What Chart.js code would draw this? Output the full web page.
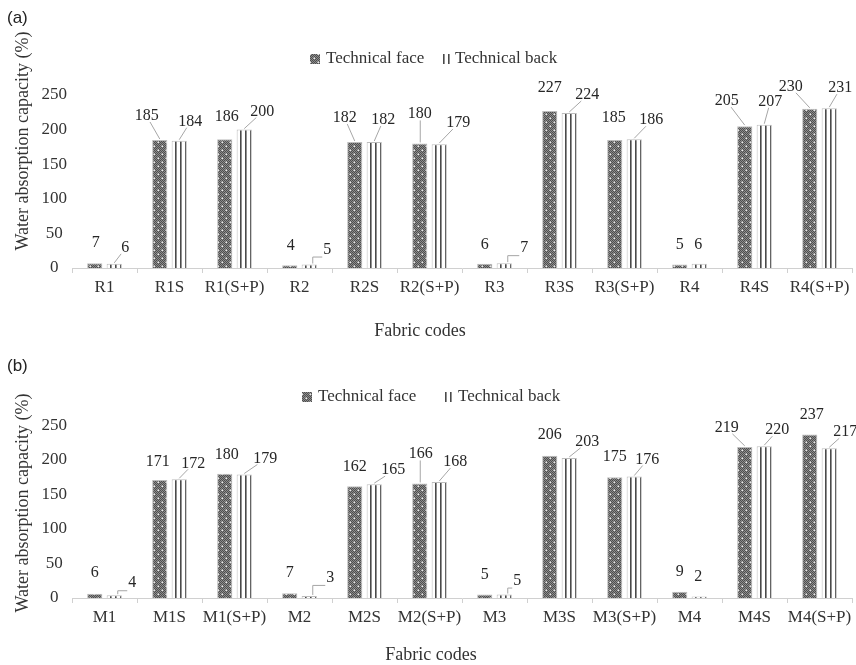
<!DOCTYPE html>
<html><head><meta charset="utf-8">
<script src="https://cdn.jsdelivr.net/npm/chart.js@4.4.1/dist/chart.umd.min.js"></script>
<style>
html,body{margin:0;padding:0;background:#fff;}
#wrap{position:relative;width:856px;height:665px;overflow:hidden;}
canvas{position:absolute;left:0;}
</style></head><body>
<div id="wrap">
<canvas id="ca" width="856" height="340" style="top:0;width:856px;height:340px"></canvas>
<canvas id="cb" width="856" height="325" style="top:340px;width:856px;height:325px"></canvas>
</div>
<script>
// ---- data ----
const categoriesA = ['R1','R1S','R1(S+P)','R2','R2S','R2(S+P)','R3','R3S','R3(S+P)','R4','R4S','R4(S+P)'];
const faceA = [7,185,186,4,182,180,6,227,185,5,205,230];
const backA = [6,184,200,5,182,179,7,224,186,6,207,231];
const categoriesB = ['M1','M1S','M1(S+P)','M2','M2S','M2(S+P)','M3','M3S','M3(S+P)','M4','M4S','M4(S+P)'];
const faceB = [6,171,180,7,162,166,5,206,175,9,219,237];
const backB = [4,172,179,3,165,168,5,203,176,2,220,217];
const yTicks = [0,50,100,150,200,250];
const seriesNames = ['Technical face','Technical back'];
const xTitle = 'Fabric codes';
const yTitle = 'Water absorption capacity (%)';

// ---- label placement (offset from bar top, leader type) ----
const labA_face = [[1,-20,''],[-13,-24,'l'],[2,-22,''],[1,-19,''],[-10,-24,'l'],[0,-30,'v'],[0,-19,''],[0,-23,''],[-1,-22,''],[0,-19.5,''],[-18,-25,'l'],[-19,-22,'l']];
const labA_back = [[11,-16,'l'],[11,-19,'l'],[18,-18,'l'],[18,-15,'e'],[9,-22,'l'],[19,-21,'l'],[20,-15,'e'],[18,-18,'l'],[17,-19,'l'],[-1,-19,''],[6,-23,'l'],[11,-20,'l']];
const labB_face = [[0,-21,''],[-2,-18,''],[2,-19,''],[0,-20,''],[0,-19,''],[1,-30,'v'],[0,-19.5,''],[0,-21,''],[0,-20,''],[0,-20,''],[-18,-19,'l'],[2,-20,'']];
const labB_back = [[18,-12,'e'],[14,-16,'l'],[21,-16,'l'],[21,-18,'e'],[19,-14,'l'],[16,-20,'l'],[13,-14,'e'],[18,-16,'l'],[13,-17,'l'],[-1,-20,''],[13,-16,'l'],[16,-16,'l']];

const SERIF = '"Liberation Serif","Times New Roman",serif';
const SANS = '"Liberation Sans",Arial,sans-serif';

function facePattern(){
  const c=document.createElement('canvas'); c.width=8; c.height=8;
  const g=c.getContext('2d');
  for(let y=0;y<8;y++)for(let x=0;x<8;x++){
    g.fillStyle=((x+y)%2===0)?'#4e4e4e':'#8c8c8c'; g.fillRect(x,y,1,1);
  }
  g.fillStyle='#e8e8e8'; g.fillRect(1.5,1.5,1.5,1.5); g.fillRect(5.5,5.5,1.5,1.5);
  return c;
}
function backPattern(){
  const c=document.createElement('canvas'); c.width=5; c.height=4;
  const g=c.getContext('2d');
  g.fillStyle='#ffffff'; g.fillRect(0,0,5,4);
  g.fillStyle='#4a4a4a'; g.fillRect(0,0,1.6,4);
  return c;
}

const annot = {
  id:'annot',
  afterDatasetsDraw(chart, args, o){
    const ctx=chart.ctx;
    ctx.save();
    ctx.font='16px '+SERIF;
    ctx.textAlign='center'; ctx.textBaseline='middle';
    o.labels.forEach((offs,di)=>{
      const meta=chart.getDatasetMeta(di);
      const vals=chart.data.datasets[di].data;
      meta.data.forEach((bar,j)=>{
        const [dx,dy,type]=offs[j];
        const bx=bar.x, by=bar.y;
        const lx=bx+dx, ly=by+dy;
        const txt=String(vals[j]);
        const w=ctx.measureText(txt).width;
        ctx.strokeStyle='#a6a6a6'; ctx.lineWidth=1;
        if(type){
          ctx.beginPath();
          if(type==='l'){
            const ddx=bx-lx, ddy=by-ly;
            const t=Math.min(ddx===0?1e9:(w/2+1)/Math.abs(ddx), ddy===0?1e9:6/Math.abs(ddy));
            ctx.moveTo(bx,by-1); ctx.lineTo(lx+t*ddx, ly+t*ddy);
          } else if(type==='v'){
            ctx.moveTo(bx+0.5,by-1); ctx.lineTo(bx+0.5,ly+7);
          } else if(type==='e'){
            ctx.moveTo(bx+3.5,by-1); ctx.lineTo(bx+3.5,ly+7.5); ctx.lineTo(lx-w/2-1,ly+7.5);
          }
          ctx.stroke();
        }
        ctx.fillStyle='#262626';
        ctx.fillText(txt,lx,ly);
      });
    });
    // panel letter
    ctx.font='17px '+SANS; ctx.fillStyle='#222'; ctx.textAlign='left';
    ctx.fillText(o.panel, 7, o.panelY);
    // legend
    const L=o.legend;
    ctx.fillStyle=ctx.createPattern(facePattern(),'repeat');
    ctx.fillRect(L.faceBox, L.y-5, 10, 10);
    ctx.fillStyle='#4a4a4a';
    ctx.fillRect(L.backMark, L.y-5, 1.6, 10);
    ctx.fillRect(L.backMark+5, L.y-5, 1.6, 10);
    ctx.font='17px '+SERIF; ctx.fillStyle='#333'; ctx.textAlign='left';
    ctx.fillText(seriesNames[0], L.faceText, L.y);
    ctx.fillText(seriesNames[1], L.backText, L.y);
    // axis titles
    ctx.font='18px '+SERIF; ctx.textAlign='center';
    ctx.fillText(xTitle, o.xt[0], o.xt[1]);
    ctx.save(); ctx.translate(o.yt[0], o.yt[1]); ctx.rotate(-Math.PI/2);
    ctx.fillText(yTitle, 0, 0); ctx.restore();
    ctx.restore();
  }
};

function makeChart(id, cats, face, back, padTop, xH, labels, extra){
  const fp=document.getElementById(id).getContext('2d').createPattern(facePattern(),'repeat');
  const bp=document.getElementById(id).getContext('2d').createPattern(backPattern(),'repeat');
  return new Chart(document.getElementById(id), {
    type:'bar',
    data:{labels:cats, datasets:[
      {label:seriesNames[0], data:face, backgroundColor:fp, borderColor:'#bdbdbd', borderWidth:1, categoryPercentage:0.6, barPercentage:0.78},
      {label:seriesNames[1], data:back, backgroundColor:bp, borderColor:'#bdbdbd', borderWidth:1, categoryPercentage:0.6, barPercentage:0.78}
    ]},
    options:{
      responsive:false, animation:false, devicePixelRatio:1, events:[],
      layout:{padding:{top:padTop,right:4,left:0,bottom:0}},
      plugins:{legend:{display:false}, tooltip:{enabled:false},
        annot:Object.assign({labels:labels}, extra)},
      scales:{
        x:{type:'category', offset:true,
          grid:{display:true, drawOnChartArea:false, drawTicks:true, tickLength:5, color:'#d0d0d0', offset:true},
          border:{display:true, color:'#d0d0d0', width:1},
          ticks:{font:{family:SERIF,size:17}, color:'#333', padding:4, maxRotation:0, autoSkip:false},
          afterFit(s){ s.height=xH; }
        },
        y:{min:0, max:250,
          afterBuildTicks(s){ s.ticks=yTicks.map(v=>({value:v})); },
          grid:{display:false, drawTicks:false}, border:{display:false},
          ticks:{font:{family:SERIF,size:17}, color:'#333', crossAlign:'center', padding:5},
          afterFit(s){ s.width=72; }
        }
      }
    },
    plugins:[annot]
  });
}

makeChart('ca', categoriesA, faceA, backA, 95, 72, [labA_face, labA_back],
  {panel:'(a)', panelY:18, legend:{y:59, faceBox:310, faceText:326, backMark:443, backText:455}, xt:[420,331], yt:[23,141]});
makeChart('cb', categoriesB, faceB, backB, 85.5, 67, [labB_face, labB_back],
  {panel:'(b)', panelY:26, legend:{y:57, faceBox:302, faceText:318, backMark:445, backText:458}, xt:[431,315], yt:[23,163]});
</script>
</body></html>
